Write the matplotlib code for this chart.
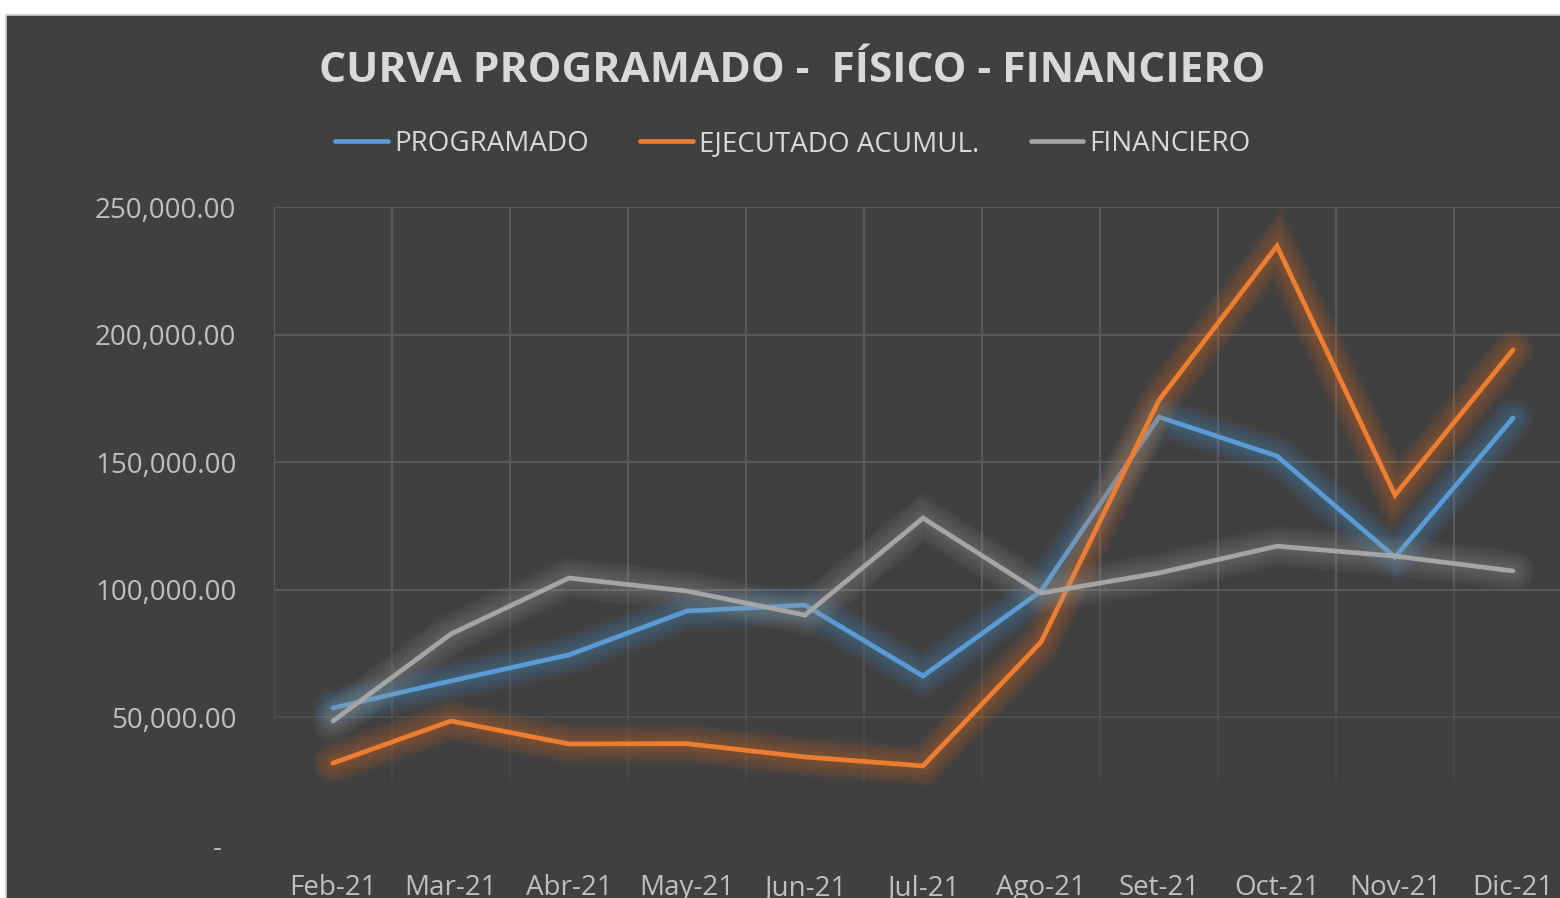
import matplotlib
matplotlib.use("Agg")
import matplotlib.pyplot as plt
import matplotlib.patheffects as pe
from matplotlib.patches import Rectangle
from matplotlib.ticker import FixedLocator, FuncFormatter

# Monthly series
months = ["Feb-21", "Mar-21", "Abr-21", "May-21", "Jun-21", "Jul-21",
          "Ago-21", "Set-21", "Oct-21", "Nov-21", "Dic-21"]
programado = [53700, 64300, 74500, 91700, 94000, 66200,
              99500, 167700, 152400, 112800, 167300]
ejecutado = [32100, 48600, 39600, 39700, 34500, 31000,
             79500, 174300, 234700, 137100, 194000]
financiero = [48600, 82700, 104600, 99500, 90100, 128100,
              98700, 106600, 117100, 113200, 107400]

series_names = ["PROGRAMADO", "EJECUTADO ACUMUL.", "FINANCIERO"]
series_colors = ["#5b9bd5", "#ed7d31", "#a5a5a5"]
y_ticks = [0, 50000, 100000, 150000, 200000, 250000]

BG = "#404040"
TEXT = "#d9d9d9"
TICK_TEXT = "#bfbfbf"
GRID = "#595959"
FONT = "Open Sans"

W, H = 1560, 898
fig = plt.figure(figsize=(W / 100, H / 100), dpi=100, facecolor="white")

# dark chart panel
fig.patches.append(Rectangle((6 / W, -0.01), 1.02, (H - 15) / H + 0.01,
                             transform=fig.transFigure, facecolor=BG,
                             edgecolor="#d0d0d0", linewidth=1.2, zorder=-5))

ax = fig.add_axes([274 / W, (H - 845) / H, 1298 / W, (845 - 207) / H])
ax.set_facecolor("none")
ax.set_zorder(2)
ax.set_xlim(-0.5, len(months) - 0.5)
ax.set_ylim(0, 250000)

for s in ax.spines.values():
    s.set_visible(False)

# gridlines: horizontal at each major tick, vertical at category boundaries
for yv in y_ticks[1:]:
    a = 0.55 if yv == 50000 else 1.0
    ax.axhline(yv, color=GRID, lw=1.5, alpha=a, zorder=1)
for k in range(len(months) + 1):
    xv = k - 0.5
    ax.plot([xv, xv], [250000, 100000], color=GRID, lw=1.5, zorder=1)
    ax.plot([xv, xv], [100000, 50000], color=GRID, lw=1.5, alpha=0.6, zorder=1)
    ax.plot([xv, xv], [50000, 25000], color=GRID, lw=1.5, alpha=0.3, zorder=1)

x = list(range(len(months)))
for vals, name, col in zip([programado, ejecutado, financiero],
                           series_names, series_colors):
    # soft halo built from stacked translucent strokes
    glow = [pe.Stroke(linewidth=w, foreground=col, alpha=0.03)
            for w in range(30, 4, -2)]
    ax.plot(x, vals, color=col, lw=3.4, solid_capstyle="round",
            solid_joinstyle="miter", zorder=3, label=name,
            path_effects=glow + [pe.Normal()])

ax.xaxis.set_major_locator(FixedLocator(x))
ax.set_xticklabels(months)
ax.yaxis.set_major_locator(FixedLocator(y_ticks))
ax.yaxis.set_major_formatter(FuncFormatter(
    lambda v, p: "-  " if v == 0 else f"{v:,.2f}"))
ax.tick_params(axis="both", length=0, colors=TICK_TEXT, labelsize=20)
ax.tick_params(axis="x", pad=21)
ax.tick_params(axis="y", pad=27)
for lab in ax.get_xticklabels() + ax.get_yticklabels():
    lab.set_fontfamily(FONT)

fig.text(792 / W, (H - 71) / H, "CURVA PROGRAMADO -  FÍSICO - FINANCIERO",
         ha="center", va="center", color=TEXT, fontsize=30.6,
         fontweight="bold", family=FONT)

leg_handles = [plt.Line2D([], [], color=c, lw=3.4, solid_capstyle="round")
               for c in series_colors]
leg = fig.legend(leg_handles, series_names, loc="center",
                 bbox_to_anchor=(793 / W, (H - 144) / H), ncol=3,
                 frameon=False, handlelength=1.9, handletextpad=0.22,
                 columnspacing=1.85, prop={"family": FONT, "size": 20})
for t in leg.get_texts():
    t.set_color(TEXT)

fig.savefig("out.png", dpi=100, facecolor="white")
